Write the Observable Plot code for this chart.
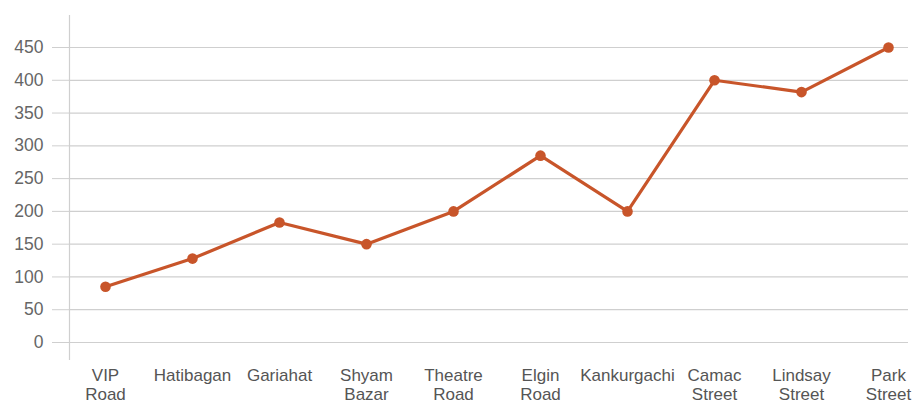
<!DOCTYPE html>
<html>
<head>
<meta charset="utf-8">
<script src="https://cdn.jsdelivr.net/npm/d3@7"></script>
<script src="https://cdn.jsdelivr.net/npm/@observablehq/plot@0.6"></script>
<style>
  html, body { margin: 0; padding: 0; background: #fff; }
  svg { display: block; }
</style>
</head>
<body>
<div id="chart"></div>
<script>
const categories = ["VIP Road", "Hatibagan", "Gariahat", "Shyam Bazar", "Theatre Road", "Elgin Road", "Kankurgachi", "Camac Street", "Lindsay Street", "Park Street"];
const values = [85, 128, 183, 150, 200, 285, 200, 400, 382, 450];
const yTicks = [0, 50, 100, 150, 200, 250, 300, 350, 400, 450];

const data = categories.map((c, i) => ({name: c, value: values[i]}));
const lineColor = "#c8552a";
const gridColor = "#cfcfcf";

const chart = Plot.plot({
  width: 918,
  height: 404,
  marginTop: 15,
  marginBottom: 45,
  marginLeft: 69,
  marginRight: 10,
  style: {fontFamily: "'Liberation Sans', Arial, sans-serif", background: "#fff"},
  x: {type: "point", domain: categories, range: [103, 890], padding: 0},
  y: {domain: [0, 450], range: [342, 47]},
  marks: [
    Plot.ruleY(yTicks, {stroke: gridColor, strokeWidth: 1.2}),
    Plot.axisY({ticks: yTicks, tickSize: 17, tickPadding: 9, stroke: gridColor, fill: "#666", fontSize: 17.5, label: null}),
    Plot.frame({anchor: "left", stroke: gridColor, strokeWidth: 1.2}),
    Plot.axisX({tickSize: 0, tickPadding: 7, fill: "#555", fontSize: 17, lineHeight: 1.16, label: null,
      tickFormat: d => d.replace(" ", "\n")}),
    Plot.line(data, {x: "name", y: "value", stroke: lineColor, strokeWidth: 3.2}),
    Plot.dot(data, {x: "name", y: "value", fill: lineColor, r: 5.3})
  ]
});
document.getElementById("chart").appendChild(chart);
</script>
</body>
</html>
